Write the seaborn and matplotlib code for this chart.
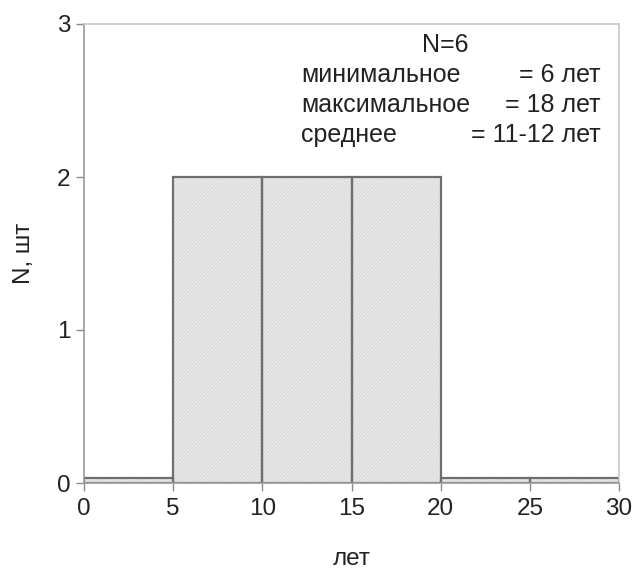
import matplotlib
matplotlib.use("Agg")
import matplotlib.pyplot as plt
import seaborn as sns

bin_edges = [0, 5, 10, 15, 20, 25, 30]
counts = [0.03, 2, 2, 2, 0.03, 0.03]
x_ticks = [0, 5, 10, 15, 20, 25, 30]
y_ticks = [0, 1, 2, 3]
info_title = "N=6"
info_labels = ["минимальное", "максимальное", "среднее"]
info_values = ["= 6 лет", "= 18 лет", "= 11-12 лет"]

sns.set_style("ticks")
plt.rcParams['font.family'] = ['Liberation Sans', 'DejaVu Sans']
plt.rcParams['hatch.linewidth'] = 0.6

fig = plt.figure(figsize=(6.36, 5.71), dpi=100)
ax = fig.add_axes([84 / 636, 1 - 483 / 571, 535 / 636, 459 / 571])

centers = [(a + b) / 2 for a, b in zip(bin_edges[:-1], bin_edges[1:])]
# hatched fill (hatch colour follows the edge colour)
sns.histplot(x=centers, weights=counts, bins=bin_edges, ax=ax,
             color='#ececec', alpha=1, edgecolor='#d2d2d2', linewidth=0)
for p in ax.patches:
    p.set_hatch('/' * 10)
# outlines
sns.histplot(x=centers, weights=counts, bins=bin_edges, ax=ax, fill=False,
             color='#6e6e6e', edgecolor='#6e6e6e', linewidth=1.6)

ax.set_xlim(0, 30)
ax.set_ylim(0, 3)
ax.set_xticks(x_ticks)
ax.set_yticks(y_ticks)
ax.tick_params(axis='both', labelsize=17.5, labelcolor='#222222', length=5.8,
               width=1, direction='out', color='#8a8a8a')
ax.tick_params(axis='x', pad=5)
ax.tick_params(axis='y', pad=4)
for name, s in ax.spines.items():
    s.set_color('#9a9a9a' if name in ('left', 'bottom') else '#c8c8c8')
    s.set_linewidth(1.2)
ax.set_xlabel('лет', fontsize=17.5, labelpad=20, color='#222222')
ax.set_ylabel('N, шт', fontsize=17.5, labelpad=16, color='#222222')

ax.text(20.24, 2.817, info_title, fontsize=18, ha='center', va='baseline', color='#222222')
ys = [2.620, 2.424, 2.227]
for lab, val, y in zip(info_labels, info_values, ys):
    ax.text(12.17, y, lab, fontsize=18, ha='left', va='baseline', color='#222222')
    ax.text(28.95, y, val, fontsize=18, ha='right', va='baseline', color='#222222')

fig.savefig('out.png', dpi=100)
